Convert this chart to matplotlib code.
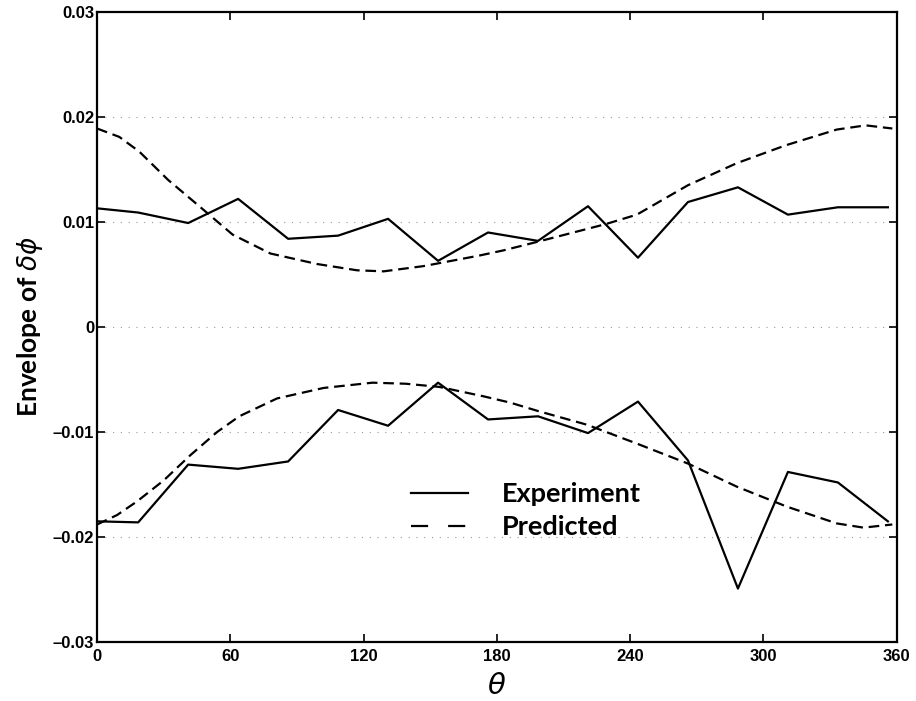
import matplotlib
matplotlib.use("Agg")
import matplotlib.pyplot as plt
from matplotlib.lines import Line2D

# measured envelope (upper / lower) at each rotation angle
theta_exp = [0, 18.5, 41, 63.5, 86, 108.5, 131, 153.5, 176, 198.5, 221, 243.5,
             266, 288.5, 311, 333.5, 356]
exp_upper = [0.0113, 0.0109, 0.0099, 0.0122, 0.0084, 0.0087, 0.0103, 0.0063, 0.0090,
             0.0082, 0.0115, 0.0066, 0.0119, 0.0133, 0.0107, 0.0114, 0.0114]
exp_lower = [-0.0185, -0.0186, -0.0131, -0.0135, -0.0128, -0.0079, -0.0094, -0.0053,
             -0.0088, -0.0085, -0.0101, -0.0071, -0.0127, -0.0249, -0.0138, -0.0148, -0.0185]

# predicted envelope
theta_pred = [0, 10, 19, 32, 46, 61, 78, 99, 117, 129, 147, 162, 172, 183, 198, 229,
              243, 266, 288, 310, 333, 346, 358]
pred_upper = [0.0189, 0.0181, 0.0167, 0.0140, 0.0115, 0.0088, 0.0070, 0.0060, 0.0054,
              0.0053, 0.0058, 0.0064, 0.0068, 0.0073, 0.0081, 0.0098, 0.0107, 0.0135,
              0.0156, 0.0173, 0.0188, 0.0192, 0.0189]
theta_pred_lo = [0, 9, 18, 30, 42, 54, 64, 81, 102, 124, 139, 154, 174, 186, 198.5,
                 220.5, 243, 266, 288, 310.5, 333, 345, 358]
pred_lower = [-0.0188, -0.0179, -0.0166, -0.0146, -0.0122, -0.0100, -0.0085, -0.0068,
              -0.0058, -0.0053, -0.0054, -0.0057, -0.0066, -0.0072, -0.0080, -0.0093,
              -0.0111, -0.0130, -0.0152, -0.0171, -0.0187, -0.0191, -0.0188]

series_labels = ["Experiment", "Predicted"]
xticks = [0, 60, 120, 180, 240, 300, 360]
yticks = [-0.03, -0.02, -0.01, 0, 0.01, 0.02, 0.03]
ytick_labels = ["\u20130.03", "\u20130.02", "\u20130.01", "0", "0.01", "0.02", "0.03"]

fig = plt.figure(figsize=(9.16, 7.01), dpi=100)
ax = fig.add_axes([0.106, 0.084, 0.873, 0.899])

dash = (4.8, 2.6)
ax.plot(theta_exp, exp_upper, color="black", lw=1.6)
ax.plot(theta_pred, pred_upper, color="black", lw=1.6, dashes=dash)
ax.plot(theta_exp, exp_lower, color="black", lw=1.6)
ax.plot(theta_pred_lo, pred_lower, color="black", lw=1.6, dashes=dash)

ax.set_xlim(0, 360)
ax.set_ylim(-0.03, 0.03)
ax.set_xticks(xticks)
ax.set_yticks(yticks)
ax.set_yticklabels(ytick_labels)
for lab in ax.get_xticklabels() + ax.get_yticklabels():
    lab.set_family("Liberation Sans")
    lab.set_fontweight("bold")
    lab.set_fontsize(12)

ax.tick_params(direction="in", length=6, width=1.2, top=True, right=True, pad=2)
ax.tick_params(axis="x", pad=5)
for s in ax.spines.values():
    s.set_linewidth(1.6)
ax.yaxis.grid(True, linestyle=(0, (1, 6)), color="#999999", linewidth=0.8)

ax.set_ylabel(r"Envelope of $\delta\phi$", fontsize=19, family="Lato",
              fontweight="bold", labelpad=6)
ax.set_xlabel(r"$\theta$", fontsize=21, labelpad=6)

# legend proxies: long dashes like the original key
handles = [Line2D([], [], color="black", lw=1.6),
           Line2D([], [], color="black", lw=1.6, dashes=(7.7, 9))]
ax.legend(handles, series_labels, loc="upper left", bbox_to_anchor=(0.362, 0.292),
          frameon=False, handlelength=2.1, handletextpad=1.25, labelspacing=0.32,
          prop={"family": "Lato", "size": 19.5, "weight": "bold"})

fig.savefig("out.png", dpi=100)
